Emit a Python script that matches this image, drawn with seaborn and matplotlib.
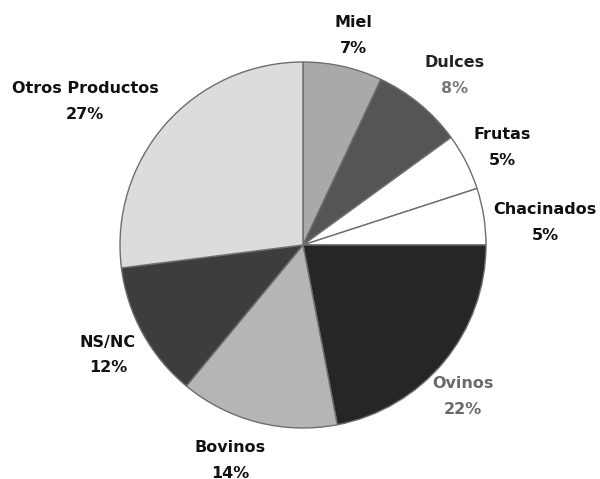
import matplotlib
matplotlib.use("Agg")
import matplotlib.pyplot as plt
import seaborn as sns

# Product shares (percent), clockwise from 12 o'clock
categories = ["Miel", "Dulces", "Frutas", "Chacinados", "Ovinos", "Bovinos", "NS/NC", "Otros Productos"]
shares = [7, 8, 5, 5, 22, 14, 12, 27]

sns.set_theme(style="white")
plt.rcParams["font.family"] = ["DejaVu Sans"]

fill_colors = ["#a9a9a9", "#555555", "#ffffff", "#ffffff", "#262626", "#b5b5b5", "#3d3d3d", "#dcdcdc"]
# label anchor points in figure pixels (x, y from top) and text tones
label_pos = [(353, 35), (455, 75), (502, 147), (545, 222), (463, 397), (230, 460), (108, 355), (85, 101)]
name_tone = ["#111111", "#222222", "#111111", "#111111", "#6a6a6a", "#111111", "#111111", "#111111"]
pct_tone = ["#111111", "#777777", "#111111", "#111111", "#6a6a6a", "#111111", "#111111", "#111111"]

W, H = 600, 479
fig = plt.figure(figsize=(W / 100, H / 100), dpi=100)
ax = fig.add_axes([0, 0, 1, 1])

ax.pie(
    shares,
    colors=fill_colors,
    startangle=90,
    counterclock=False,
    center=(303, H - 245),
    radius=183,
    wedgeprops=dict(edgecolor="#6e6e6e", linewidth=1.0),
    frame=True,
)
ax.set_xlim(0, W)
ax.set_ylim(0, H)
ax.set_aspect("equal")
ax.axis("off")

for name, val, (x, y), c1, c2 in zip(categories, shares, label_pos, name_tone, pct_tone):
    ax.text(x, H - y + 13, name, ha="center", va="center", fontsize=11.5,
            fontweight="bold", color=c1)
    ax.text(x, H - y - 13, f"{val}%", ha="center", va="center", fontsize=11.5,
            fontweight="bold", color=c2)

fig.savefig("out.png", dpi=100, facecolor="white")
